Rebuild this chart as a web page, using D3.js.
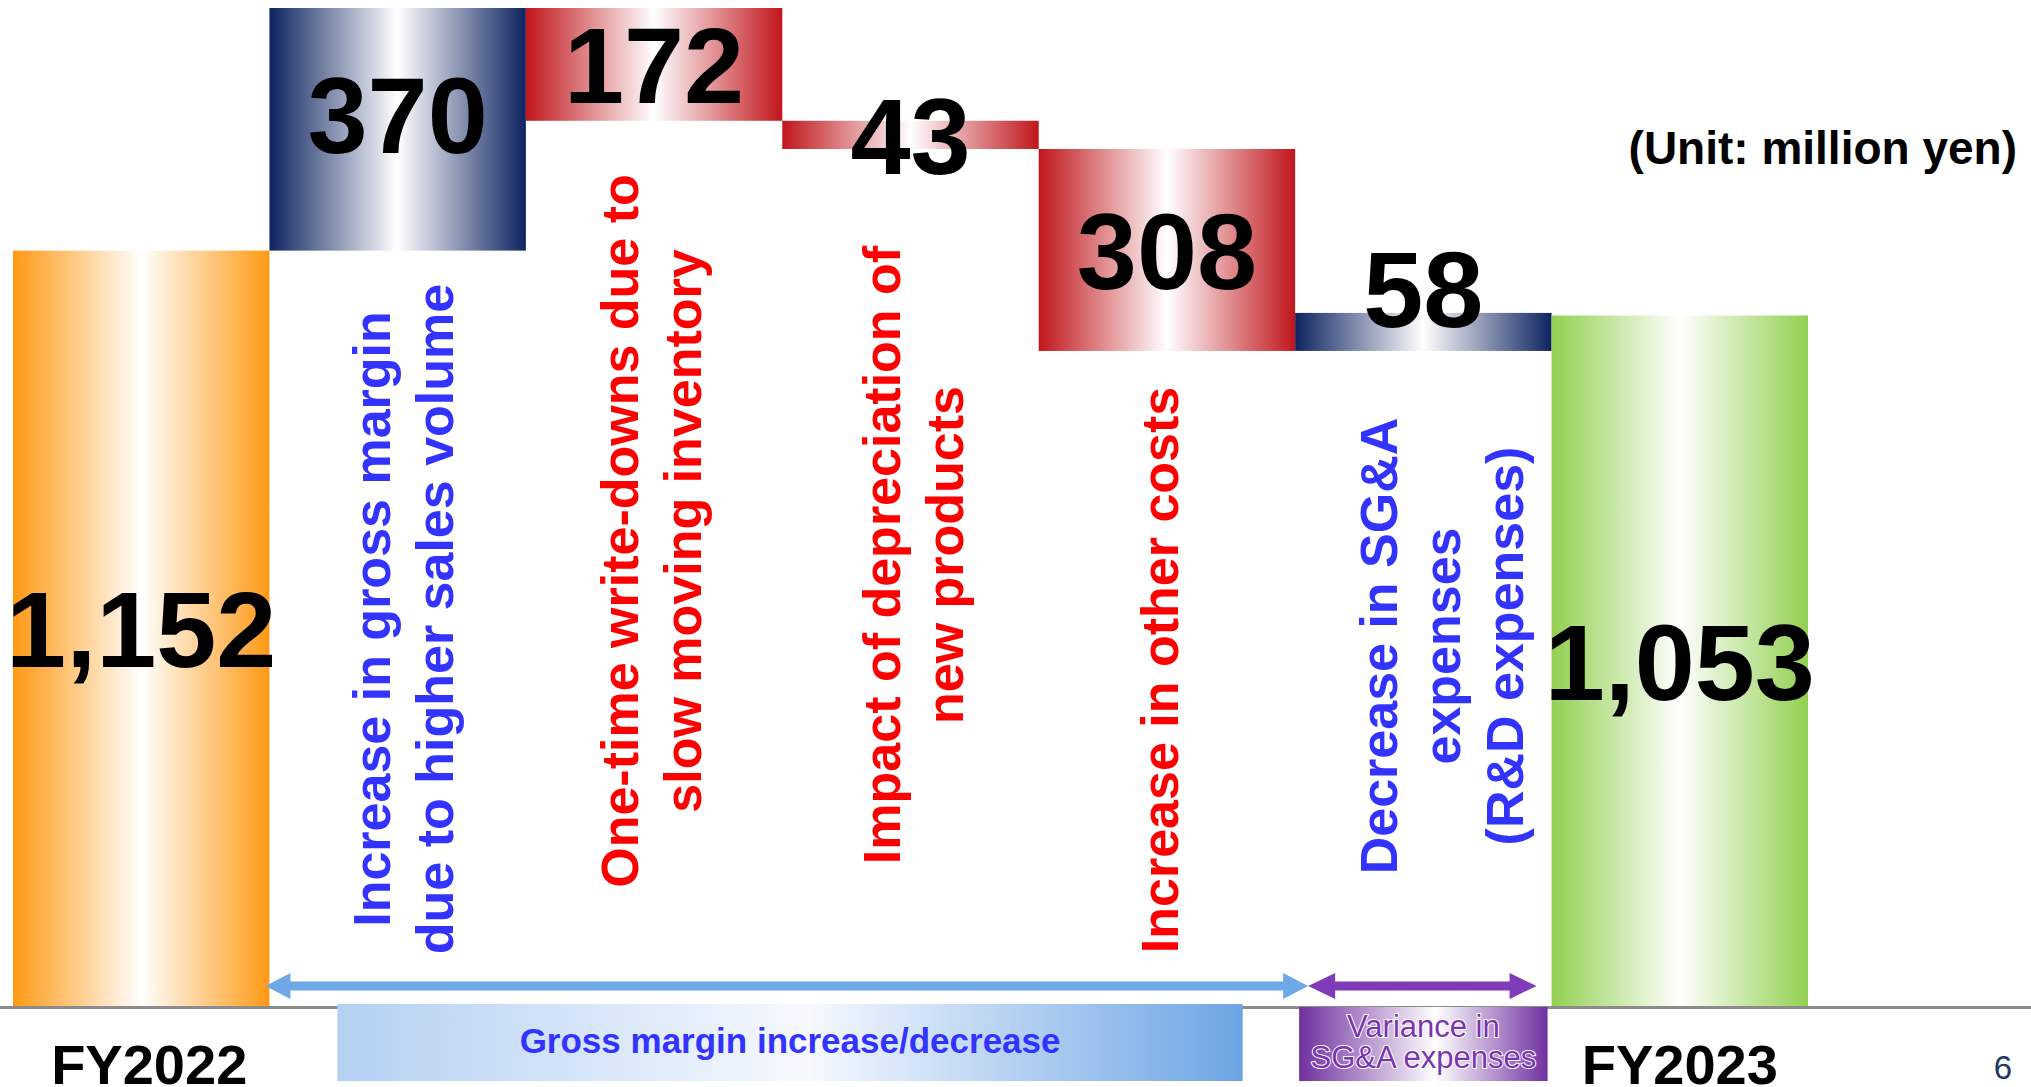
<!DOCTYPE html>
<html>
<head>
<meta charset="utf-8">
<script src="https://cdn.jsdelivr.net/npm/d3@7"></script>
<style>
body { margin: 0; background: #fff; }
svg text { font-family: "Liberation Sans", Arial, Helvetica, sans-serif; }
</style>
</head>
<body>
<svg id="chart" width="2031" height="1087"></svg>
<script>
// Data
var steps = ["FY2022", "gross", "writedown", "depreciation", "other", "sga", "FY2023"];
var values = [1152, 370, -172, -43, -308, 58, 1053];
var isTotal = [true, false, false, false, false, false, true];
var stepLabels = [
  [],
  ["Increase in gross margin", "due to higher sales volume"],
  ["One-time write-downs due to", "slow moving inventory"],
  ["Impact of depreciation of", "new products"],
  ["Increase in other costs"],
  ["Decrease in SG&A", "expenses", "(R&D expenses)"],
  []
];
var yearLabels = ["FY2022", "FY2023"];
var grossBoxText = "Gross margin increase/decrease";
var sgaBoxText = ["Variance in", "SG&A expenses"];
var unitText = "(Unit: million yen)";
var pageNo = "6";

// Layout
var W = 2031, H = 1087;
var baseY = 1006;
var valueShift = [0, -15, 0, 0, 0, -44, 0];
var labelMidY = [0, 619, 531, 555, 670, 646, 0];
var labelDx = [0, 5, -3, 2, -8, 18, 0];
var lineGap = 63;
var labelSize = 52;

// Colors
var blueText = "#3333ff";
var redText = "#ff0000";
var orange = "#ff9914";
var navy = "#0e2461";
var red = "#c0161c";
var green = "#92d050";

var svg = d3.select("#chart");

// waterfall start/end
var running = 0;
var bars = values.map(function(v, i) {
  var b;
  if (isTotal[i]) { b = { y0: 0, y1: v }; running = v; }
  else { b = { y0: running, y1: running + v }; running += v; }
  b.v = v; b.i = i; b.step = steps[i];
  return b;
});

var x = d3.scaleBand().domain(steps).range([13, 1808]).padding(0);
var y = d3.scaleLinear()
          .domain([0, d3.max(bars, function(d) { return Math.max(d.y0, d.y1); })])
          .range([baseY, 8]);
var bw = x.bandwidth();

// Gradients
var defs = svg.append("defs");
function hGrad(id, c, mid) {
  var g = defs.append("linearGradient").attr("id", id)
              .attr("x1", "0%").attr("x2", "100%").attr("y1", "0%").attr("y2", "0%");
  g.append("stop").attr("offset", "0%").attr("stop-color", c);
  g.append("stop").attr("offset", (mid || 50) + "%").attr("stop-color", "#ffffff");
  g.append("stop").attr("offset", "100%").attr("stop-color", c);
}
hGrad("g-orange", orange);
hGrad("g-navy", navy);
hGrad("g-red", red);
hGrad("g-green", green);
hGrad("g-purple", "#7030a0", 55);
var gb = defs.append("linearGradient").attr("id", "g-blue")
             .attr("x1", "0%").attr("x2", "100%").attr("y1", "0%").attr("y2", "0%");
gb.append("stop").attr("offset", "0%").attr("stop-color", "#b3d0f2");
gb.append("stop").attr("offset", "52%").attr("stop-color", "#f6f9fe");
gb.append("stop").attr("offset", "100%").attr("stop-color", "#6ca4e4");

function fillFor(d) {
  if (d.i == 0) return "url(#g-orange)";
  if (d.i == steps.length - 1) return "url(#g-green)";
  return d.v > 0 ? "url(#g-navy)" : "url(#g-red)";
}

// Bars
svg.selectAll(".bar")
   .data(bars)
   .enter()
   .append("rect")
   .attr("class", "bar")
   .attr("x", function(d) { return x(d.step); })
   .attr("width", bw)
   .attr("y", function(d) { return y(Math.max(d.y0, d.y1)); })
   .attr("height", function(d) { return Math.abs(y(d.y0) - y(d.y1)); })
   .style("fill", fillFor);

// Baseline
svg.append("line")
   .attr("x1", 0).attr("x2", W)
   .attr("y1", baseY + 1.5).attr("y2", baseY + 1.5)
   .style("stroke", "#8c8c8c").style("stroke-width", 3);

// Value labels
var fmt = d3.format(",");
svg.selectAll(".valueLabel")
   .data(bars)
   .enter()
   .append("text")
   .attr("class", "valueLabel")
   .attr("x", function(d) { return x(d.step) + bw / 2; })
   .attr("y", function(d) { return (y(d.y0) + y(d.y1)) / 2 + 39 + valueShift[d.i]; })
   .attr("text-anchor", "middle")
   .style("font-size", "108px")
   .style("font-weight", "bold")
   .style("fill", "#000")
   .text(function(d) { return fmt(Math.abs(d.v)); });

// Rotated step labels
var lab = svg.selectAll(".stepLabel")
   .data(bars.filter(function(d) { return stepLabels[d.i].length > 0; }))
   .enter()
   .append("text")
   .attr("class", "stepLabel")
   .attr("transform", function(d) {
     return "translate(" + (x(d.step) + bw / 2 + labelDx[d.i]) + "," + labelMidY[d.i] + ") rotate(-90)";
   })
   .attr("text-anchor", "middle")
   .style("font-size", labelSize + "px")
   .style("font-weight", "bold")
   .style("fill", function(d) { return d.v > 0 ? blueText : redText; });

lab.selectAll("tspan")
   .data(function(d) { return stepLabels[d.i].map(function(t, k, arr) { return { t: t, k: k, n: arr.length }; }); })
   .enter()
   .append("tspan")
   .attr("x", 0)
   .attr("y", function(d) { return (d.k - (d.n - 1) / 2) * lineGap + labelSize * 0.36; })
   .text(function(d) { return d.t; });

// Arrows
function arrow(x1, x2, yy, color, hl) {
  var hh = 13, sh = 4.5;
  var p = d3.path();
  p.moveTo(x1, yy);
  p.lineTo(x1 + hl, yy - hh); p.lineTo(x1 + hl, yy - sh);
  p.lineTo(x2 - hl, yy - sh); p.lineTo(x2 - hl, yy - hh);
  p.lineTo(x2, yy);
  p.lineTo(x2 - hl, yy + hh); p.lineTo(x2 - hl, yy + sh);
  p.lineTo(x1 + hl, yy + sh); p.lineTo(x1 + hl, yy + hh);
  p.closePath();
  svg.append("path").attr("d", p.toString()).style("fill", color);
}
arrow(x("gross") - 4, x("sga") + 13, 986, "#6fa8e6", 25);
arrow(x("sga") + 13, x("sga") + bw - 15, 986, "#7f3bba", 27);

// Gross margin box
var gx0 = x("gross") + 68, gx1 = x("other") + 204;
svg.append("rect")
   .attr("x", gx0).attr("y", 1004).attr("width", gx1 - gx0).attr("height", 77)
   .style("fill", "url(#g-blue)");
svg.append("text")
   .attr("x", (gx0 + gx1) / 2).attr("y", 1053)
   .attr("text-anchor", "middle")
   .style("font-size", "35px").style("font-weight", "bold")
   .style("fill", blueText)
   .text(grossBoxText);

// SG&A box
var sx0 = x("sga") + 4, sx1 = x("sga") + bw - 4;
svg.append("rect")
   .attr("x", sx0).attr("y", 1007).attr("width", sx1 - sx0).attr("height", 74)
   .style("fill", "url(#g-purple)");
svg.selectAll(".sgaText")
   .data(sgaBoxText)
   .enter()
   .append("text")
   .attr("class", "sgaText")
   .attr("x", (sx0 + sx1) / 2)
   .attr("y", function(d, i) { return 1037 + i * 31; })
   .attr("text-anchor", "middle")
   .style("font-size", "31px")
   .style("fill", "#7a35b0")
   .style("stroke", "#ffffff").style("stroke-width", 2)
   .style("paint-order", "stroke")
   .text(function(d) { return d; });

// Year labels
svg.selectAll(".yearLabel")
   .data(yearLabels)
   .enter()
   .append("text")
   .attr("class", "yearLabel")
   .attr("x", function(d) { return x(d) + bw / 2 + (d == "FY2022" ? 8 : 0); })
   .attr("y", 1084)
   .attr("text-anchor", "middle")
   .style("font-size", "56px").style("font-weight", "bold")
   .style("fill", "#000")
   .text(function(d) { return d; });

// Unit and page number
svg.append("text")
   .attr("x", 2017).attr("y", 164)
   .attr("text-anchor", "end")
   .style("font-size", "46px").style("font-weight", "bold")
   .text(unitText);
svg.append("text")
   .attr("x", 2003).attr("y", 1079)
   .attr("text-anchor", "middle")
   .style("font-size", "33px")
   .style("fill", "#1f3864")
   .text(pageNo);
</script>
</body>
</html>
